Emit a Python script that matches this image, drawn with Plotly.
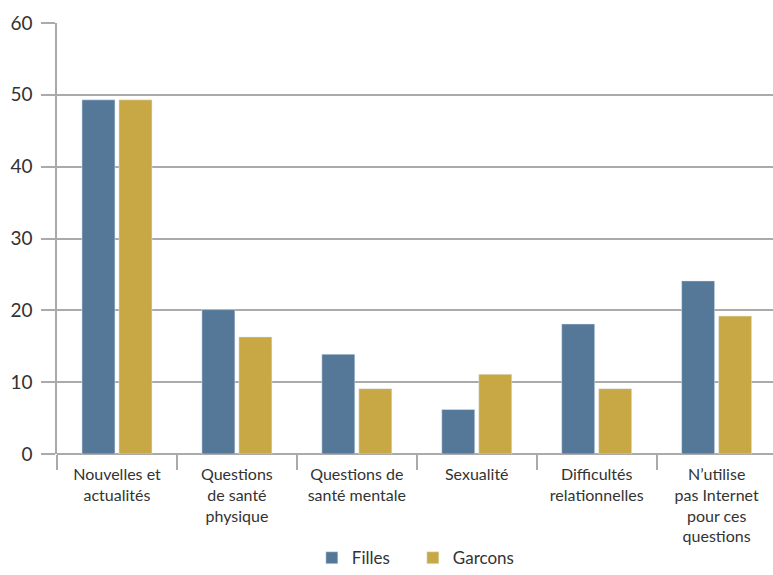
import plotly.graph_objects as go

categories = [
    "Nouvelles et<br>actualités",
    "Questions<br>de santé<br>physique",
    "Questions de<br>santé mentale",
    "Sexualité",
    "Difficultés<br>relationnelles",
    "N’utilise<br>pas Internet<br>pour ces<br>questions",
]
filles = [49.3, 20.1, 13.9, 6.2, 18.1, 24.1]
garcons = [49.3, 16.3, 9.1, 11.1, 9.1, 19.2]
y_ticks = [0, 10, 20, 30, 40, 50, 60]

fig = go.Figure()
fig.add_trace(go.Bar(x=categories, y=filles, name="Filles", marker_color="#557899"))
fig.add_trace(go.Bar(x=categories, y=garcons, name="Garcons", marker_color="#C8A844"))

fig.update_layout(
    width=773, height=575,
    margin=dict(l=57, r=0, t=23, b=121, autoexpand=False),
    paper_bgcolor="white", plot_bgcolor="white",
    barmode="group", bargap=0.383, bargroupgap=0.108,
    font=dict(family="Lato, Open Sans, sans-serif", color="#333333", size=17),
    legend=dict(orientation="h", x=0.497, xanchor="center", y=-0.2, yanchor="top",
                font=dict(family="Lato, sans-serif", size=17, color="#333333"),
                entrywidth=56, entrywidthmode="pixels", tracegroupgap=0),
    xaxis=dict(
        type="category", showgrid=False, showline=False, automargin=False,
        range=[-0.5, 5.47], tickangle=0, ticklabelstandoff=9,
        ticks="outside", tickson="boundaries", ticklen=15, tickcolor="#aaaaaa", tickwidth=1.5,
        tickfont=dict(family="Lato, sans-serif", size=16, color="#333333"),
    ),
    yaxis=dict(
        range=[0, 60], tickvals=y_ticks, showgrid=True, gridcolor="#aaaaaa", gridwidth=2,
        zeroline=True, zerolinecolor="#aaaaaa", zerolinewidth=2, automargin=False,
        showline=True, linecolor="#aaaaaa", linewidth=1.5, ticklabelstandoff=5,
        ticks="outside", ticklen=14, tickcolor="#aaaaaa", tickwidth=2,
        tickfont=dict(family="Lato, sans-serif", size=19, color="#333333"),
    ),
)

fig.write_html("out.html")
